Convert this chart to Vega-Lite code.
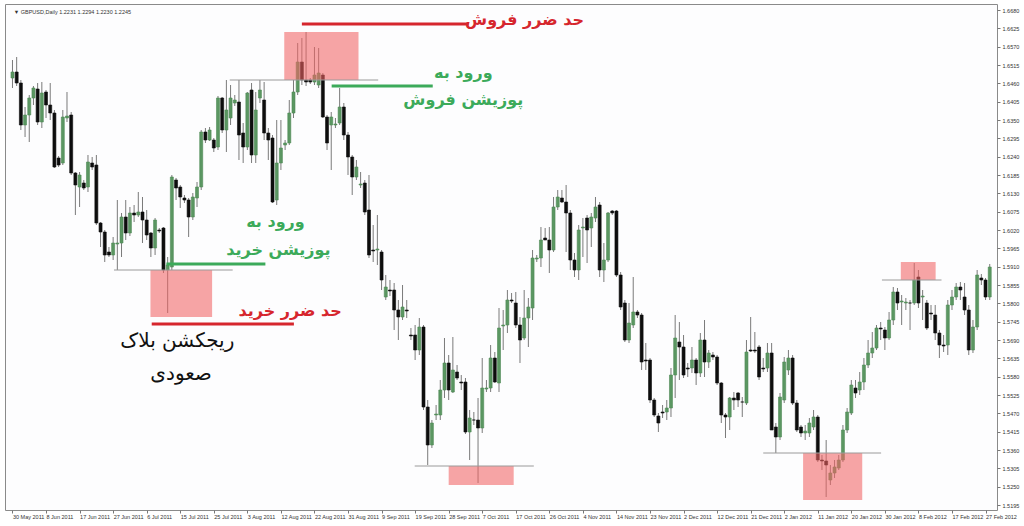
{
"$schema":"https://vega.github.io/schema/vega-lite/v6.json",
"width":992,"height":506,"autosize":"none",
"padding":{"left":5,"top":4,"right":27,"bottom":16},
"background":"#ffffff",
"config":{"view":{"stroke":"#8a8a8a","strokeWidth":1,"fill":"#fdfdfe"},"axis":{"grid":false,"labelFont":"Liberation Sans","labelFontSize":5.5,"labelColor":"#333333","tickColor":"#777777","domainColor":"#888888","labelOverlap":false,"labelFlush":false}},
"resolve":{"axis":{"x":"independent","y":"independent"}},
"datasets":{
"candles":[
{"i":0,"o":1.6476,"h":1.6530,"l":1.6446,"c":1.6494},{"i":1,"o":1.6494,"h":1.6539,"l":1.6452,"c":1.6461},{"i":2,"o":1.6461,"h":1.6470,"l":1.6320,"c":1.6335},{"i":3,"o":1.6335,"h":1.6389,"l":1.6299,"c":1.6365},{"i":4,"o":1.6365,"h":1.6425,"l":1.6284,"c":1.6416},{"i":5,"o":1.6416,"h":1.6452,"l":1.6395,"c":1.6446},{"i":6,"o":1.6443,"h":1.6461,"l":1.6335,"c":1.6344},{"i":7,"o":1.6344,"h":1.6464,"l":1.6326,"c":1.6431},{"i":8,"o":1.6434,"h":1.6440,"l":1.6356,"c":1.6395},{"i":9,"o":1.6395,"h":1.6461,"l":1.6350,"c":1.6371},
{"i":10,"o":1.6371,"h":1.6380,"l":1.6206,"c":1.6209},{"i":11,"o":1.6236,"h":1.6242,"l":1.6209,"c":1.6215},{"i":12,"o":1.6221,"h":1.6380,"l":1.6215,"c":1.6359},{"i":13,"o":1.6356,"h":1.6434,"l":1.6344,"c":1.6362},{"i":14,"o":1.6365,"h":1.6374,"l":1.6185,"c":1.6191},{"i":15,"o":1.6191,"h":1.6194,"l":1.6065,"c":1.6155},{"i":16,"o":1.6149,"h":1.6194,"l":1.6089,"c":1.6185},{"i":17,"o":1.6161,"h":1.6170,"l":1.6140,"c":1.6146},{"i":18,"o":1.6149,"h":1.6245,"l":1.6134,"c":1.6224},{"i":19,"o":1.6221,"h":1.6239,"l":1.6200,"c":1.6209},
{"i":20,"o":1.6215,"h":1.6245,"l":1.6035,"c":1.6041},{"i":21,"o":1.6041,"h":1.6044,"l":1.5969,"c":1.6014},{"i":22,"o":1.6014,"h":1.6020,"l":1.5924,"c":1.5945},{"i":23,"o":1.5954,"h":1.5969,"l":1.5939,"c":1.5945},{"i":24,"o":1.5945,"h":1.5999,"l":1.5930,"c":1.5981},{"i":25,"o":1.5978,"h":1.6110,"l":1.5900,"c":1.5981},{"i":26,"o":1.5981,"h":1.6071,"l":1.5939,"c":1.6059},{"i":27,"o":1.6059,"h":1.6110,"l":1.5990,"c":1.6011},{"i":28,"o":1.6011,"h":1.6089,"l":1.6002,"c":1.6071},{"i":29,"o":1.6071,"h":1.6095,"l":1.6044,"c":1.6065},
{"i":30,"o":1.6065,"h":1.6134,"l":1.6059,"c":1.6074},{"i":31,"o":1.6074,"h":1.6119,"l":1.5981,"c":1.6050},{"i":32,"o":1.6050,"h":1.6080,"l":1.5990,"c":1.6005},{"i":33,"o":1.6011,"h":1.6014,"l":1.5939,"c":1.5966},{"i":34,"o":1.5966,"h":1.6056,"l":1.5945,"c":1.6050},{"i":35,"o":1.6020,"h":1.6026,"l":1.6011,"c":1.6017},{"i":36,"o":1.6026,"h":1.6029,"l":1.5891,"c":1.5900},{"i":37,"o":1.5900,"h":1.5939,"l":1.5771,"c":1.5915},{"i":38,"o":1.5909,"h":1.6185,"l":1.5900,"c":1.6179},{"i":39,"o":1.6170,"h":1.6176,"l":1.6110,"c":1.6146},
{"i":40,"o":1.6149,"h":1.6155,"l":1.6086,"c":1.6119},{"i":41,"o":1.6116,"h":1.6125,"l":1.6101,"c":1.6110},{"i":42,"o":1.6110,"h":1.6116,"l":1.5999,"c":1.6059},{"i":43,"o":1.6059,"h":1.6131,"l":1.6050,"c":1.6119},{"i":44,"o":1.6116,"h":1.6164,"l":1.6089,"c":1.6149},{"i":45,"o":1.6149,"h":1.6320,"l":1.6140,"c":1.6314},{"i":46,"o":1.6314,"h":1.6326,"l":1.6281,"c":1.6290},{"i":47,"o":1.6290,"h":1.6329,"l":1.6287,"c":1.6320},{"i":48,"o":1.6290,"h":1.6296,"l":1.6254,"c":1.6266},{"i":49,"o":1.6269,"h":1.6422,"l":1.6260,"c":1.6416},
{"i":50,"o":1.6416,"h":1.6419,"l":1.6311,"c":1.6320},{"i":51,"o":1.6320,"h":1.6470,"l":1.6254,"c":1.6380},{"i":52,"o":1.6356,"h":1.6455,"l":1.6335,"c":1.6416},{"i":53,"o":1.6401,"h":1.6425,"l":1.6392,"c":1.6410},{"i":54,"o":1.6404,"h":1.6470,"l":1.6230,"c":1.6305},{"i":55,"o":1.6311,"h":1.6341,"l":1.6221,"c":1.6269},{"i":56,"o":1.6269,"h":1.6434,"l":1.6260,"c":1.6431},{"i":57,"o":1.6440,"h":1.6461,"l":1.6221,"c":1.6245},{"i":58,"o":1.6245,"h":1.6434,"l":1.6221,"c":1.6380},{"i":59,"o":1.6416,"h":1.6470,"l":1.6401,"c":1.6440},
{"i":60,"o":1.6410,"h":1.6464,"l":1.6290,"c":1.6311},{"i":61,"o":1.6311,"h":1.6326,"l":1.6230,"c":1.6290},{"i":62,"o":1.6296,"h":1.6305,"l":1.6101,"c":1.6104},{"i":63,"o":1.6110,"h":1.6350,"l":1.6095,"c":1.6221},{"i":64,"o":1.6221,"h":1.6350,"l":1.6200,"c":1.6266},{"i":65,"o":1.6275,"h":1.6290,"l":1.6260,"c":1.6281},{"i":66,"o":1.6281,"h":1.6410,"l":1.6275,"c":1.6371},{"i":67,"o":1.6371,"h":1.6470,"l":1.6356,"c":1.6434},{"i":68,"o":1.6434,"h":1.6581,"l":1.6425,"c":1.6524},{"i":69,"o":1.6524,"h":1.6596,"l":1.6455,"c":1.6470},
{"i":70,"o":1.6470,"h":1.6614,"l":1.6452,"c":1.6464},{"i":71,"o":1.6470,"h":1.6476,"l":1.6458,"c":1.6464},{"i":72,"o":1.6464,"h":1.6569,"l":1.6455,"c":1.6485},{"i":73,"o":1.6455,"h":1.6566,"l":1.6446,"c":1.6491},{"i":74,"o":1.6485,"h":1.6491,"l":1.6356,"c":1.6359},{"i":75,"o":1.6359,"h":1.6365,"l":1.6260,"c":1.6281},{"i":76,"o":1.6335,"h":1.6374,"l":1.6200,"c":1.6359},{"i":77,"o":1.6335,"h":1.6356,"l":1.6326,"c":1.6338},{"i":78,"o":1.6341,"h":1.6446,"l":1.6335,"c":1.6389},{"i":79,"o":1.6389,"h":1.6401,"l":1.6290,"c":1.6305},
{"i":80,"o":1.6305,"h":1.6314,"l":1.6185,"c":1.6239},{"i":81,"o":1.6239,"h":1.6245,"l":1.6125,"c":1.6179},{"i":82,"o":1.6179,"h":1.6230,"l":1.6170,"c":1.6209},{"i":83,"o":1.6155,"h":1.6194,"l":1.6146,"c":1.6158},{"i":84,"o":1.6161,"h":1.6170,"l":1.6065,"c":1.6074},{"i":85,"o":1.6080,"h":1.6185,"l":1.5936,"c":1.5945},{"i":86,"o":1.5960,"h":1.6035,"l":1.5924,"c":1.5957},{"i":87,"o":1.5960,"h":1.6065,"l":1.5915,"c":1.5963},{"i":88,"o":1.5954,"h":1.5960,"l":1.5840,"c":1.5870},{"i":89,"o":1.5819,"h":1.5885,"l":1.5810,"c":1.5849},
{"i":90,"o":1.5840,"h":1.5870,"l":1.5822,"c":1.5837},{"i":91,"o":1.5840,"h":1.5861,"l":1.5720,"c":1.5780},{"i":92,"o":1.5780,"h":1.5810,"l":1.5690,"c":1.5759},{"i":93,"o":1.5759,"h":1.5855,"l":1.5750,"c":1.5789},{"i":94,"o":1.5780,"h":1.5810,"l":1.5756,"c":1.5777},{"i":95,"o":1.5705,"h":1.5726,"l":1.5690,"c":1.5702},{"i":96,"o":1.5705,"h":1.5735,"l":1.5630,"c":1.5660},{"i":97,"o":1.5660,"h":1.5756,"l":1.5645,"c":1.5729},{"i":98,"o":1.5729,"h":1.5735,"l":1.5480,"c":1.5489},{"i":99,"o":1.5489,"h":1.5510,"l":1.5315,"c":1.5375},
{"i":100,"o":1.5375,"h":1.5450,"l":1.5366,"c":1.5441},{"i":101,"o":1.5465,"h":1.5495,"l":1.5450,"c":1.5468},{"i":102,"o":1.5465,"h":1.5570,"l":1.5450,"c":1.5540},{"i":103,"o":1.5540,"h":1.5696,"l":1.5516,"c":1.5621},{"i":104,"o":1.5621,"h":1.5645,"l":1.5510,"c":1.5540},{"i":105,"o":1.5534,"h":1.5699,"l":1.5531,"c":1.5600},{"i":106,"o":1.5594,"h":1.5615,"l":1.5570,"c":1.5576},{"i":107,"o":1.5564,"h":1.5585,"l":1.5540,"c":1.5561},{"i":108,"o":1.5564,"h":1.5576,"l":1.5408,"c":1.5414},{"i":109,"o":1.5414,"h":1.5480,"l":1.5330,"c":1.5456},
{"i":110,"o":1.5450,"h":1.5474,"l":1.5435,"c":1.5450},{"i":111,"o":1.5450,"h":1.5516,"l":1.5261,"c":1.5426},{"i":112,"o":1.5426,"h":1.5636,"l":1.5411,"c":1.5546},{"i":113,"o":1.5543,"h":1.5570,"l":1.5534,"c":1.5546},{"i":114,"o":1.5546,"h":1.5675,"l":1.5534,"c":1.5636},{"i":115,"o":1.5636,"h":1.5654,"l":1.5561,"c":1.5564},{"i":116,"o":1.5561,"h":1.5786,"l":1.5534,"c":1.5726},{"i":117,"o":1.5732,"h":1.5780,"l":1.5660,"c":1.5735},{"i":118,"o":1.5735,"h":1.5840,"l":1.5711,"c":1.5810},{"i":119,"o":1.5810,"h":1.5831,"l":1.5801,"c":1.5807},
{"i":120,"o":1.5801,"h":1.5834,"l":1.5726,"c":1.5735},{"i":121,"o":1.5735,"h":1.5759,"l":1.5621,"c":1.5690},{"i":122,"o":1.5696,"h":1.5840,"l":1.5690,"c":1.5756},{"i":123,"o":1.5756,"h":1.5816,"l":1.5669,"c":1.5789},{"i":124,"o":1.5786,"h":1.5960,"l":1.5750,"c":1.5936},{"i":125,"o":1.5933,"h":1.5945,"l":1.5924,"c":1.5936},{"i":126,"o":1.5936,"h":1.6029,"l":1.5909,"c":1.5990},{"i":127,"o":1.5996,"h":1.6026,"l":1.5990,"c":1.5990},{"i":128,"o":1.5990,"h":1.6029,"l":1.5891,"c":1.5960},{"i":129,"o":1.5960,"h":1.6119,"l":1.5954,"c":1.6089},
{"i":130,"o":1.6089,"h":1.6140,"l":1.6080,"c":1.6119},{"i":131,"o":1.6116,"h":1.6140,"l":1.6101,"c":1.6104},{"i":132,"o":1.6104,"h":1.6155,"l":1.5954,"c":1.6071},{"i":133,"o":1.6071,"h":1.6080,"l":1.5900,"c":1.5930},{"i":134,"o":1.5930,"h":1.5951,"l":1.5879,"c":1.5900},{"i":135,"o":1.5900,"h":1.6035,"l":1.5870,"c":1.6020},{"i":136,"o":1.6026,"h":1.6056,"l":1.5939,"c":1.6029},{"i":137,"o":1.6056,"h":1.6065,"l":1.5921,"c":1.6020},{"i":138,"o":1.6026,"h":1.6071,"l":1.5969,"c":1.6059},{"i":139,"o":1.6056,"h":1.6119,"l":1.6044,"c":1.6089},
{"i":140,"o":1.6095,"h":1.6104,"l":1.5879,"c":1.5900},{"i":141,"o":1.5900,"h":1.5981,"l":1.5864,"c":1.5930},{"i":142,"o":1.5930,"h":1.6074,"l":1.5924,"c":1.6071},{"i":143,"o":1.6077,"h":1.6080,"l":1.6065,"c":1.6071},{"i":144,"o":1.6077,"h":1.6080,"l":1.5879,"c":1.5885},{"i":145,"o":1.5885,"h":1.5894,"l":1.5780,"c":1.5789},{"i":146,"o":1.5801,"h":1.5810,"l":1.5684,"c":1.5690},{"i":147,"o":1.5690,"h":1.5801,"l":1.5681,"c":1.5741},{"i":148,"o":1.5735,"h":1.5879,"l":1.5726,"c":1.5774},{"i":149,"o":1.5774,"h":1.5780,"l":1.5756,"c":1.5765},
{"i":150,"o":1.5765,"h":1.5771,"l":1.5600,"c":1.5624},{"i":151,"o":1.5630,"h":1.5681,"l":1.5600,"c":1.5627},{"i":152,"o":1.5630,"h":1.5636,"l":1.5501,"c":1.5510},{"i":153,"o":1.5510,"h":1.5516,"l":1.5459,"c":1.5465},{"i":154,"o":1.5462,"h":1.5471,"l":1.5414,"c":1.5441},{"i":155,"o":1.5474,"h":1.5495,"l":1.5456,"c":1.5471},{"i":156,"o":1.5474,"h":1.5510,"l":1.5450,"c":1.5486},{"i":157,"o":1.5486,"h":1.5606,"l":1.5459,"c":1.5585},{"i":158,"o":1.5585,"h":1.5765,"l":1.5516,"c":1.5696},{"i":159,"o":1.5684,"h":1.5744,"l":1.5570,"c":1.5669},
{"i":160,"o":1.5669,"h":1.5705,"l":1.5576,"c":1.5585},{"i":161,"o":1.5606,"h":1.5621,"l":1.5579,"c":1.5603},{"i":162,"o":1.5606,"h":1.5669,"l":1.5591,"c":1.5630},{"i":163,"o":1.5630,"h":1.5636,"l":1.5555,"c":1.5591},{"i":164,"o":1.5591,"h":1.5711,"l":1.5579,"c":1.5690},{"i":165,"o":1.5690,"h":1.5750,"l":1.5579,"c":1.5624},{"i":166,"o":1.5624,"h":1.5660,"l":1.5606,"c":1.5651},{"i":167,"o":1.5645,"h":1.5654,"l":1.5630,"c":1.5639},{"i":168,"o":1.5639,"h":1.5645,"l":1.5555,"c":1.5561},{"i":169,"o":1.5561,"h":1.5564,"l":1.5441,"c":1.5465},
{"i":170,"o":1.5465,"h":1.5471,"l":1.5396,"c":1.5459},{"i":171,"o":1.5459,"h":1.5519,"l":1.5420,"c":1.5516},{"i":172,"o":1.5516,"h":1.5534,"l":1.5480,"c":1.5510},{"i":173,"o":1.5531,"h":1.5534,"l":1.5489,"c":1.5510},{"i":174,"o":1.5504,"h":1.5519,"l":1.5459,"c":1.5504},{"i":175,"o":1.5501,"h":1.5690,"l":1.5495,"c":1.5654},{"i":176,"o":1.5660,"h":1.5759,"l":1.5654,"c":1.5657},{"i":177,"o":1.5660,"h":1.5714,"l":1.5651,"c":1.5657},{"i":178,"o":1.5669,"h":1.5675,"l":1.5570,"c":1.5579},{"i":179,"o":1.5606,"h":1.5636,"l":1.5594,"c":1.5603},
{"i":180,"o":1.5606,"h":1.5681,"l":1.5594,"c":1.5651},{"i":181,"o":1.5651,"h":1.5681,"l":1.5420,"c":1.5420},{"i":182,"o":1.5429,"h":1.5441,"l":1.5351,"c":1.5399},{"i":183,"o":1.5399,"h":1.5531,"l":1.5390,"c":1.5519},{"i":184,"o":1.5510,"h":1.5639,"l":1.5501,"c":1.5624},{"i":185,"o":1.5600,"h":1.5660,"l":1.5585,"c":1.5636},{"i":186,"o":1.5636,"h":1.5645,"l":1.5495,"c":1.5501},{"i":187,"o":1.5501,"h":1.5510,"l":1.5414,"c":1.5420},{"i":188,"o":1.5429,"h":1.5435,"l":1.5399,"c":1.5411},{"i":189,"o":1.5411,"h":1.5435,"l":1.5390,"c":1.5417},
{"i":190,"o":1.5411,"h":1.5456,"l":1.5399,"c":1.5441},{"i":191,"o":1.5429,"h":1.5480,"l":1.5420,"c":1.5459},{"i":192,"o":1.5459,"h":1.5465,"l":1.5324,"c":1.5330},{"i":193,"o":1.5330,"h":1.5345,"l":1.5300,"c":1.5327},{"i":194,"o":1.5327,"h":1.5390,"l":1.5219,"c":1.5315},{"i":195,"o":1.5270,"h":1.5315,"l":1.5255,"c":1.5291},{"i":196,"o":1.5291,"h":1.5330,"l":1.5276,"c":1.5309},{"i":197,"o":1.5306,"h":1.5345,"l":1.5300,"c":1.5330},{"i":198,"o":1.5330,"h":1.5435,"l":1.5324,"c":1.5420},{"i":199,"o":1.5420,"h":1.5486,"l":1.5411,"c":1.5474},
{"i":200,"o":1.5471,"h":1.5570,"l":1.5465,"c":1.5555},{"i":201,"o":1.5546,"h":1.5570,"l":1.5516,"c":1.5531},{"i":202,"o":1.5540,"h":1.5594,"l":1.5525,"c":1.5564},{"i":203,"o":1.5564,"h":1.5636,"l":1.5540,"c":1.5615},{"i":204,"o":1.5615,"h":1.5690,"l":1.5606,"c":1.5651},{"i":205,"o":1.5651,"h":1.5714,"l":1.5636,"c":1.5666},{"i":206,"o":1.5666,"h":1.5735,"l":1.5660,"c":1.5726},{"i":207,"o":1.5726,"h":1.5744,"l":1.5690,"c":1.5723},{"i":208,"o":1.5720,"h":1.5729,"l":1.5660,"c":1.5696},{"i":209,"o":1.5696,"h":1.5774,"l":1.5690,"c":1.5750},
{"i":210,"o":1.5750,"h":1.5849,"l":1.5735,"c":1.5834},{"i":211,"o":1.5834,"h":1.5846,"l":1.5780,"c":1.5801},{"i":212,"o":1.5804,"h":1.5825,"l":1.5735,"c":1.5807},{"i":213,"o":1.5801,"h":1.5816,"l":1.5780,"c":1.5804},{"i":214,"o":1.5801,"h":1.5810,"l":1.5720,"c":1.5801},{"i":215,"o":1.5801,"h":1.5921,"l":1.5795,"c":1.5870},{"i":216,"o":1.5879,"h":1.5900,"l":1.5786,"c":1.5801},{"i":217,"o":1.5819,"h":1.5840,"l":1.5750,"c":1.5822},{"i":218,"o":1.5801,"h":1.5810,"l":1.5720,"c":1.5726},{"i":219,"o":1.5771,"h":1.5795,"l":1.5750,"c":1.5768},
{"i":220,"o":1.5765,"h":1.5795,"l":1.5690,"c":1.5711},{"i":221,"o":1.5711,"h":1.5720,"l":1.5636,"c":1.5675},{"i":222,"o":1.5675,"h":1.5705,"l":1.5654,"c":1.5672},{"i":223,"o":1.5675,"h":1.5810,"l":1.5645,"c":1.5795},{"i":224,"o":1.5795,"h":1.5840,"l":1.5780,"c":1.5819},{"i":225,"o":1.5819,"h":1.5861,"l":1.5810,"c":1.5849},{"i":226,"o":1.5849,"h":1.5864,"l":1.5810,"c":1.5840},{"i":227,"o":1.5819,"h":1.5861,"l":1.5765,"c":1.5780},{"i":228,"o":1.5780,"h":1.5795,"l":1.5645,"c":1.5660},{"i":229,"o":1.5660,"h":1.5750,"l":1.5651,"c":1.5729},
{"i":230,"o":1.5729,"h":1.5900,"l":1.5720,"c":1.5885},{"i":231,"o":1.5876,"h":1.5888,"l":1.5855,"c":1.5870},{"i":232,"o":1.5870,"h":1.5876,"l":1.5810,"c":1.5819},{"i":233,"o":1.5819,"h":1.5918,"l":1.5810,"c":1.5909}
],
"boxes":[
{"x1":32.9,"x2":47.6,"p1":1.5900,"p2":1.5759},
{"x1":64.8,"x2":82.5,"p1":1.6614,"p2":1.6470},
{"x1":104.0,"x2":119.5,"p1":1.5312,"p2":1.5255},
{"x1":188.5,"x2":202.6,"p1":1.5351,"p2":1.5210},
{"x1":211.8,"x2":220.1,"p1":1.5924,"p2":1.5870}
],
"levels":[
{"x1":24.2,"x2":52.5,"p":1.5900},
{"x1":51.8,"x2":87.2,"p":1.6470},
{"x1":95.9,"x2":124.3,"p":1.5312},
{"x1":179.0,"x2":207.1,"p":1.5351},
{"x1":207.3,"x2":221.5,"p":1.5870}
],
"marks":[
{"x1":36.7,"x2":60.3,"p":1.5918,"kind":"entry"},
{"x1":33.2,"x2":67.1,"p":1.5738,"kind":"stop"},
{"x1":69.0,"x2":108.7,"p":1.6638,"kind":"stop"},
{"x1":76.1,"x2":100.2,"p":1.6452,"kind":"entry"}
],
"notes":[
{"i":122.1,"p":1.6650,"t":"حد ضرر فروش","kind":"stop"},
{"i":107.5,"p":1.6491,"t":"ورود به","kind":"entry"},
{"i":107.5,"p":1.6410,"t":"پوزیشن فروش","kind":"entry"},
{"i":62.7,"p":1.6044,"t":"ورود به","kind":"entry"},
{"i":63.4,"p":1.5960,"t":"پوزیشن خرید","kind":"entry"},
{"i":66.2,"p":1.5777,"t":"حد ضرر خرید","kind":"stop"}
],
"block":[
{"i":39.3,"p":1.5687,"t":"ریجکشن بلاک"},
{"i":40.2,"p":1.5588,"t":"صعودی"}
],
"header":[
{"i":0.3,"p":1.6674,"t":"▼ GBPUSD,Daily  1.2231 1.2294 1.2230 1.2245"}
]
},
"layer":[
{"data":{"name":"candles"},"mark":{"type":"rule","color":"#7a7a7a","strokeWidth":1},
 "encoding":{
  "x":{"field":"i","type":"quantitative","title":null,"scale":{"domain":[-0.59,233.54],"nice":false,"zero":false},
   "axis":{"orient":"bottom","values":[0,8,16,24,32,40,48,56,64,72,80,88,96,104,112,120,128,136,144,152,160,168,176,184,192,200,208,216,224,232],
     "labelExpr":"['30 May 2011','8 Jun 2011','17 Jun 2011','27 Jun 2011','6 Jul 2011','15 Jul 2011','25 Jul 2011','3 Aug 2011','12 Aug 2011','22 Aug 2011','31 Aug 2011','9 Sep 2011','19 Sep 2011','28 Sep 2011','7 Oct 2011','17 Oct 2011','26 Oct 2011','4 Nov 2011','14 Nov 2011','23 Nov 2011','2 Dec 2011','12 Dec 2011','21 Dec 2011','2 Jan 2012','11 Jan 2012','20 Jan 2012','30 Jan 2012','8 Feb 2012','17 Feb 2012','27 Feb 2012'][round(datum.value/8)]",
     "labelAlign":"left","tickSize":3,"labelPadding":1,"domain":false}},
  "y":{"field":"l","type":"quantitative","title":null,"scale":{"domain":[1.518,1.6698],"nice":false,"zero":false},
   "axis":{"orient":"right","values":[1.668,1.6625,1.657,1.6515,1.646,1.6405,1.635,1.6295,1.624,1.6185,1.613,1.6075,1.602,1.5965,1.591,1.5855,1.58,1.5745,1.569,1.5635,1.558,1.5525,1.547,1.5415,1.536,1.5305,1.525,1.5195],
     "format":".4f","tickSize":3,"labelPadding":2,"domain":false}},
  "y2":{"field":"h"}}},
{"data":{"name":"candles"},"mark":{"type":"bar","strokeWidth":0.6},
 "encoding":{
  "x":{"field":"i","type":"quantitative","axis":null},
  "y":{"field":"o","type":"quantitative","axis":null},
  "y2":{"field":"c"},
  "size":{"value":3},
  "color":{"condition":{"test":"datum.c > datum.o","value":"#5b9762"},"value":"#0d0d0d"},
  "stroke":{"condition":{"test":"datum.c > datum.o","value":"#4f8a56"},"value":"#0d0d0d"}}},
{"data":{"name":"boxes"},"mark":{"type":"rect","fill":"#f26464","opacity":0.58},
 "encoding":{"x":{"field":"x1","type":"quantitative","axis":null},"x2":{"field":"x2"},"y":{"field":"p1","type":"quantitative","axis":null},"y2":{"field":"p2"}}},
{"data":{"name":"levels"},"mark":{"type":"rule","color":"#9a9a9a","strokeWidth":1},
 "encoding":{"x":{"field":"x1","type":"quantitative","axis":null},"x2":{"field":"x2"},"y":{"field":"p","type":"quantitative","axis":null}}},
{"data":{"name":"marks"},"mark":{"type":"rule","strokeWidth":3},
 "encoding":{"x":{"field":"x1","type":"quantitative","axis":null},"x2":{"field":"x2"},"y":{"field":"p","type":"quantitative","axis":null},
  "color":{"field":"kind","type":"nominal","scale":{"domain":["stop","entry"],"range":["#d6262d","#3caa5a"]},"legend":null}}},
{"data":{"name":"notes"},"mark":{"type":"text","font":"DejaVu Sans","fontSize":16,"fontWeight":"bold","align":"center","baseline":"middle"},
 "encoding":{"x":{"field":"i","type":"quantitative","axis":null},"y":{"field":"p","type":"quantitative","axis":null},"text":{"field":"t"},
  "color":{"field":"kind","type":"nominal","scale":{"domain":["stop","entry"],"range":["#d6262d","#3caa5a"]},"legend":null}}},
{"data":{"name":"block"},"mark":{"type":"text","font":"DejaVu Sans","fontSize":20,"align":"center","baseline":"middle","color":"#111111"},
 "encoding":{"x":{"field":"i","type":"quantitative","axis":null},"y":{"field":"p","type":"quantitative","axis":null},"text":{"field":"t"}}},
{"data":{"name":"header"},"mark":{"type":"text","font":"Liberation Sans","fontSize":5.5,"align":"left","baseline":"middle","color":"#333333"},
 "encoding":{"x":{"field":"i","type":"quantitative","axis":null},"y":{"field":"p","type":"quantitative","axis":null},"text":{"field":"t"}}}
]
}
